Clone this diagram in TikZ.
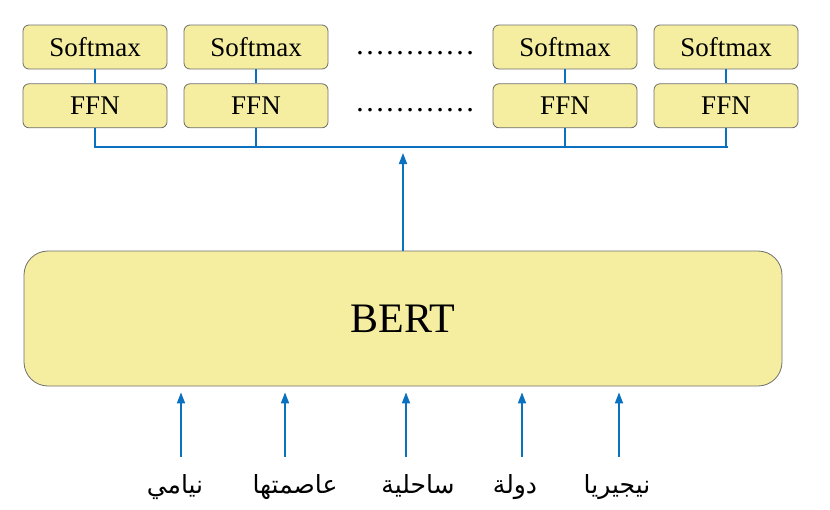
\documentclass[tikz,border=0pt]{standalone}
\usepackage{fontspec}
\setmainfont{Liberation Serif}
\newfontfamily\arabicfont[Script=Arabic]{DejaVu Sans}
\TeXXeTstate=1
\usepackage{xcolor}
\usetikzlibrary{arrows.meta, positioning, calc}

\definecolor{boxfill}{HTML}{F5EEA0}
\definecolor{boxline}{HTML}{6E6E6E}
\definecolor{linkblue}{HTML}{0A70C0}

\begin{document}
\begin{tikzpicture}[x=1pt, y=-1pt,
    headbox/.style={rectangle, rounded corners=6pt, draw=boxline, line width=0.8pt,
        fill=boxfill, minimum width=144pt, minimum height=44pt, inner sep=0pt,
        font=\fontsize{27}{27}\selectfont},
    link/.style={draw=linkblue, line width=1.7pt},
    arr/.style={link, -{Triangle[width=8pt, length=11pt]}},
    word/.style={anchor=base, inner sep=0pt, font=\fontsize{25}{25}\selectfont\arabicfont}]
    \useasboundingbox (0,0) rectangle (830,509);

    % output heads
    \node[headbox] (sm1) at (95,47) {Softmax};
    \node[headbox] (sm2) at (256,47) {Softmax};
    \node[headbox] (sm3) at (565,47) {Softmax};
    \node[headbox] (sm4) at (726,47) {Softmax};
    \node[headbox, below=14pt of sm1] (ffn1) {FFN};
    \node[headbox, below=14pt of sm2] (ffn2) {FFN};
    \node[headbox, below=14pt of sm3] (ffn3) {FFN};
    \node[headbox, below=14pt of sm4] (ffn4) {FFN};
    \node[anchor=base, font=\fontsize{30}{30}\selectfont] (dots1) at (415,54) {…………};
    \node[anchor=base, font=\fontsize{30}{30}\selectfont] (dots2) at (415,111) {…………};

    \foreach \i in {1,...,4} {
        \draw[link] (sm\i) -- (ffn\i);
    }

    % bus line
    \coordinate (busL) at (95,147);
    \coordinate (busR) at (728,147);
    \draw[link] (ffn1.south) -- (busL) -- (busR);
    \foreach \i in {2,3,4} {
        \draw[link] (ffn\i.south) -- (ffn\i.south |- busL);
    }

    % encoder
    \node[rectangle, rounded corners=24pt, draw=boxline, line width=0.8pt, fill=boxfill,
        minimum width=758pt, minimum height=135pt,
        font=\fontsize{42}{42}\selectfont] (bert) at (403,318.5) {BERT};
    \coordinate (up) at (403,153);
    \draw[arr] (bert.north) -- (up);

    % input tokens
    \node[word] (w1) at (175,493) {\beginR نيامي\endR};
    \node[word] (w2) at (295,493) {\beginR عاصمتها\endR};
    \node[word] (w3) at (418,493) {\beginR ساحلية\endR};
    \node[word] (w4) at (515,493) {\beginR دولة\endR};
    \node[word] (w5) at (617,493) {\beginR نيجيريا\endR};
    \foreach \i/\x in {1/181,2/285,3/406,4/522,5/619} {
        \coordinate (in\i) at (\x,457);
        \draw[arr] (in\i) -- ($(in\i |- bert.south)+(0,6)$);
    }
\end{tikzpicture}
\end{document}
